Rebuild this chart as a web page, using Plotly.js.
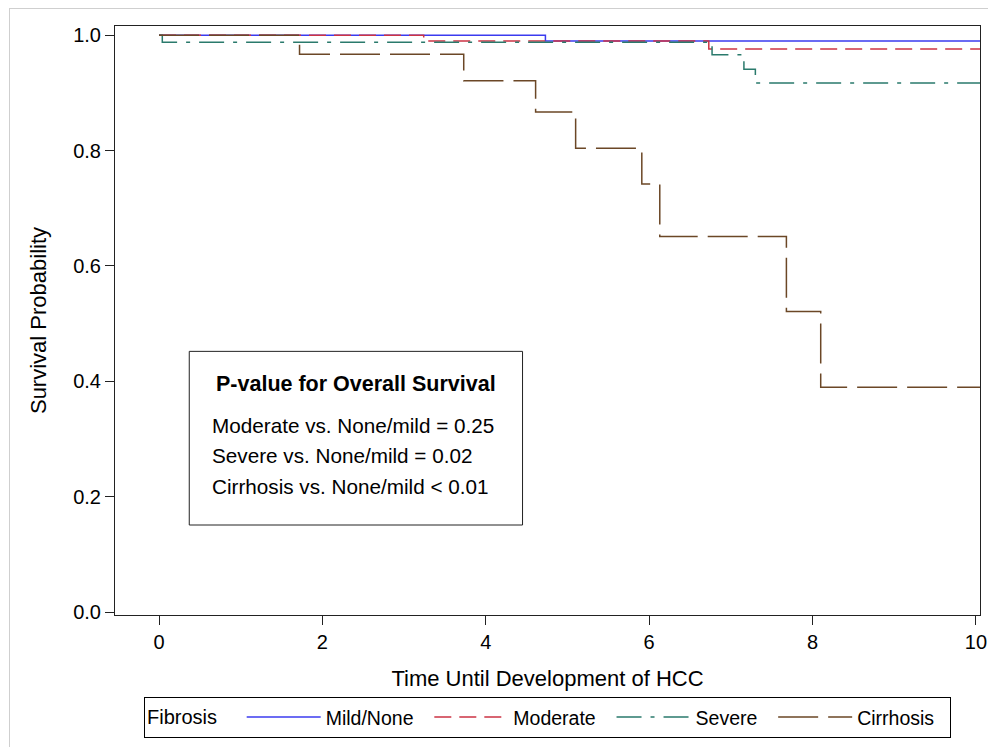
<!DOCTYPE html>
<html>
<head>
<meta charset="utf-8">
<script src="https://cdn.plot.ly/plotly-3.0.1.min.js"></script>
<style>
  html, body { margin: 0; padding: 0; background: #ffffff; }
  #chart { width: 988px; height: 747px; }
  #frame { position: absolute; left: 9px; top: 8px; width: 979px; height: 739px;
           border-left: 1px solid #cfcfcf; border-top: 1px solid #cfcfcf; pointer-events: none; }
</style>
</head>
<body>
<div id="chart"></div>
<div id="frame"></div>
<script>
// Kaplan-Meier step data
const mildTime = [0, 4.73, 10.2];
const mildSurv = [1.0, 0.99, 0.99];

const modTime = [0, 3.24, 6.73, 10.2];
const modSurv = [1.0, 0.99, 0.976, 0.976];

const sevTime = [0, 0.04, 6.77, 7.16, 7.30, 10.2];
const sevSurv = [1.0, 0.988, 0.966, 0.941, 0.917, 0.917];

const cirTime = [0, 1.72, 3.73, 4.61, 5.10, 5.91, 6.13, 7.68, 8.10, 10.2];
const cirSurv = [1.0, 0.967, 0.921, 0.867, 0.804, 0.742, 0.651, 0.521, 0.390, 0.390];

const seriesNames = ['Mild/None', 'Moderate', 'Severe', 'Cirrhosis'];
const legendTitle = 'Fibrosis';
const xTicks = [0, 2, 4, 6, 8, 10];
const yTicks = [0.0, 0.2, 0.4, 0.6, 0.8, 1.0];
const yTickText = ['0.0', '0.2', '0.4', '0.6', '0.8', '1.0'];

const pTitle = 'P-value for Overall Survival';
const pLines = ['Moderate vs. None/mild = 0.25', 'Severe vs. None/mild = 0.02', 'Cirrhosis vs. None/mild < 0.01'];

const FONT = 'Liberation Sans, Arial, Helvetica, sans-serif';
const PAD = '\u00a0\u00a0';

function tr(x, y, name, color, dash) {
  return { x: x, y: y, name: name + PAD, type: 'scatter', mode: 'lines',
           line: { shape: 'hv', color: color, width: 1.5, dash: dash }, hoverinfo: 'x+y+name' };
}

const data = [
  tr(mildTime, mildSurv, seriesNames[0], '#3b3bef', 'solid'),
  tr(modTime, modSurv, seriesNames[1], '#cc3344', '17px,8px'),
  tr(sevTime, sevSurv, seriesNames[2], '#2a7a6c', '25px,9px,4px,9px'),
  tr(cirTime, cirSurv, seriesNames[3], '#6b4726', '40px,10px')
];

const annY = [0.323, 0.271, 0.218];
const annotations = [{
  x: 2.41, y: 0.396, xref: 'x', yref: 'y', text: '<b>' + pTitle + '</b>', showarrow: false,
  xanchor: 'center', yanchor: 'middle', font: { family: FONT, size: 21.5, color: '#000' }
}].concat(pLines.map((t, i) => ({
  x: 0.625, y: annY[i], xref: 'x', yref: 'y', text: t, showarrow: false,
  xanchor: 'left', yanchor: 'middle', font: { family: FONT, size: 20.7, color: '#000' }
})));

const layout = {
  width: 988, height: 747,
  margin: { l: 115, r: 8, t: 26, b: 131.5 },
  paper_bgcolor: '#ffffff', plot_bgcolor: '#ffffff',
  font: { family: FONT, color: '#000' },
  showlegend: true,
  xaxis: {
    range: [-0.539, 10.05], tickvals: xTicks, ticktext: xTicks.map(String),
    showgrid: false, zeroline: false, showline: true, mirror: true, linecolor: '#222', linewidth: 1,
    ticks: 'outside', ticklen: 9, tickcolor: '#222', tickfont: { size: 20, family: FONT },
    ticklabeloverflow: 'allow',
    title: { text: 'Time Until Development of HCC', font: { size: 22, family: FONT }, standoff: 18 }
  },
  yaxis: {
    range: [-0.005, 1.016], tickvals: yTicks, ticktext: yTickText,
    showgrid: false, zeroline: false, showline: true, mirror: true, linecolor: '#222', linewidth: 1,
    ticks: 'outside', ticklen: 9, tickcolor: '#222', tickfont: { size: 20, family: FONT },
    title: { text: 'Survival Probability', font: { size: 22, family: FONT }, standoff: 20 }
  },
  legend: {
    orientation: 'h', x: 0.5, xanchor: 'center', y: -0.139, yanchor: 'top',
    bordercolor: '#000', borderwidth: 1, bgcolor: '#fff',
    font: { size: 19.5, family: FONT }, itemwidth: 74,
    title: { text: legendTitle + '\u00a0\u00a0\u00a0', font: { size: 20, family: FONT }, side: 'left' }
  },
  shapes: [{
    type: 'rect', xref: 'x', yref: 'y', x0: 0.37, x1: 4.45, y0: 0.151, y1: 0.452,
    line: { color: '#222', width: 1 }, fillcolor: 'rgba(255,255,255,0)'
  }],
  annotations: annotations
};

Plotly.newPlot('chart', data, layout, { displayModeBar: false, staticPlot: true });
</script>
</body>
</html>
